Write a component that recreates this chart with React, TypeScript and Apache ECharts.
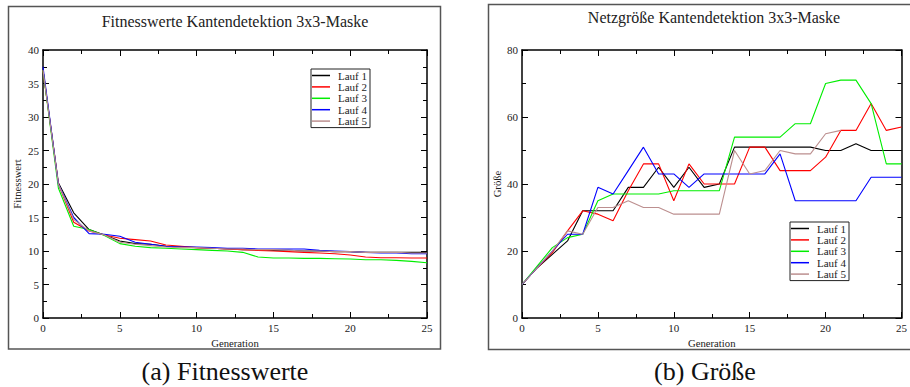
import React, { useEffect, useRef } from "react";
import * as echarts from "echarts";

const GENERATIONS = [0, 1, 2, 3, 4, 5, 6, 7, 8, 9, 10, 11, 12, 13, 14, 15, 16, 17, 18, 19, 20, 21, 22, 23, 24, 25];
const RUN_NAMES = ["Lauf 1", "Lauf 2", "Lauf 3", "Lauf 4", "Lauf 5"];
const RUN_COLORS = ["#000000", "#ff0000", "#00ee00", "#0000ff", "#bc8f8f"];

const FIT_LAUF1 = [37, 20.2, 15.7, 13.2, 12.4, 11.5, 11.1, 11.0, 10.7, 10.6, 10.5, 10.4, 10.3, 10.2, 10.2, 10.1, 10.1, 10.0, 10.0, 9.9, 9.9, 9.8, 9.8, 9.8, 9.8, 9.8];
const FIT_LAUF2 = [37, 20, 14.3, 13.0, 12.4, 11.9, 11.7, 11.5, 10.9, 10.7, 10.5, 10.4, 10.3, 10.2, 10.1, 10.0, 9.9, 9.8, 9.7, 9.6, 9.4, 9.1, 9.0, 9.0, 8.95, 8.95];
const FIT_LAUF3 = [37, 19.4, 13.7, 13.2, 12.3, 11.1, 10.7, 10.5, 10.4, 10.3, 10.2, 10.1, 10.0, 9.8, 9.1, 8.95, 8.95, 8.9, 8.9, 8.85, 8.8, 8.7, 8.7, 8.6, 8.45, 8.25];
const FIT_LAUF4 = [37.5, 20, 15.0, 12.6, 12.5, 12.2, 11.3, 11.0, 10.7, 10.6, 10.6, 10.5, 10.4, 10.4, 10.3, 10.3, 10.3, 10.3, 10.1, 10.0, 9.9, 9.8, 9.7, 9.7, 9.6, 9.6];
const FIT_LAUF5 = [37, 20, 14.7, 13.0, 12.4, 11.3, 11.0, 10.8, 10.6, 10.5, 10.5, 10.4, 10.3, 10.3, 10.2, 10.2, 10.1, 10.0, 10.0, 9.9, 9.9, 9.8, 9.8, 9.8, 9.7, 9.7];

const SIZE_LAUF1 = [10, 15, 19, 23, 32, 32, 32, 39, 39, 45, 39, 45, 39, 40, 51, 51, 51, 51, 51, 51, 50, 50, 52, 50, 50, 50];
const SIZE_LAUF2 = [10, 15, 19.5, 26, 32, 31, 29, 38, 46, 46, 35, 46, 40, 40, 40, 51, 51, 44, 44, 44, 48, 56, 56, 64, 56, 57];
const SIZE_LAUF3 = [10, 15.5, 21, 24, 25, 35, 37, 37, 37, 37, 38, 38, 38, 38, 54, 54, 54, 54, 58, 58, 70, 71, 71, 64, 46, 46];
const SIZE_LAUF4 = [10, 15, 20, 25, 25, 39, 37, 44, 51, 43, 43, 39, 43, 43, 43, 43, 43, 49, 35, 35, 35, 35, 35, 42, 42, 42];
const SIZE_LAUF5 = [10, 15, 20, 26, 25, 33, 33, 35, 33, 33, 31, 31, 31, 31, 50, 43, 44, 50, 49, 49, 55, 56, null, null, null, null];

const FIT_RUNS = [FIT_LAUF1, FIT_LAUF2, FIT_LAUF3, FIT_LAUF4, FIT_LAUF5];
const SIZE_RUNS = [SIZE_LAUF1, SIZE_LAUF2, SIZE_LAUF3, SIZE_LAUF4, SIZE_LAUF5];

const SERIF = "Liberation Serif";

function pairs(vals: (number | null)[]) {
  return GENERATIONS.map((g, i) => [g, vals[i]]).filter((p) => p[1] !== null);
}

function makeXAxis(gridIndex: number, top: boolean) {
  return {
    type: "value",
    gridIndex,
    position: top ? "top" : "bottom",
    min: 0,
    max: 25,
    interval: 5,
    name: top ? "" : "Generation",
    nameLocation: "middle",
    nameGap: 19,
    nameTextStyle: { fontFamily: SERIF, fontSize: 10.7, color: "#222" },
    axisLine: { show: true, onZero: false, lineStyle: { color: "#000", width: 1.5 } },
    axisTick: { show: true, inside: true, length: 6, lineStyle: { color: "#000", width: 1 } },
    minorTick: { show: true, splitNumber: 2, length: 4, lineStyle: { color: "#000", width: 1 } },
    axisLabel: { show: !top, fontFamily: SERIF, fontSize: 11, color: "#222", margin: 4 },
    splitLine: { show: false },
  };
}

function makeYAxis(gridIndex: number, right: boolean, max: number, interval: number, name: string, gap: number) {
  return {
    type: "value",
    gridIndex,
    position: right ? "right" : "left",
    min: 0,
    max,
    interval,
    name: right ? "" : name,
    nameLocation: "middle",
    nameGap: gap,
    nameTextStyle: { fontFamily: SERIF, fontSize: 10.7, color: "#222" },
    axisLine: { show: true, onZero: false, lineStyle: { color: "#000", width: 1.5 } },
    axisTick: { show: true, inside: true, length: 6, lineStyle: { color: "#000", width: 1 } },
    minorTick: { show: true, splitNumber: 2, length: 4, lineStyle: { color: "#000", width: 1 } },
    axisLabel: { show: !right, fontFamily: SERIF, fontSize: 11, color: "#222", margin: 4 },
    splitLine: { show: false },
  };
}

function makeLegend(left: number, top: number) {
  return {
    show: true,
    orient: "vertical",
    left,
    top,
    data: RUN_NAMES,
    icon: "rect",
    itemWidth: 18,
    itemHeight: 1.5,
    itemGap: 0.4,
    padding: [1, 3, 1, 1],
    borderColor: "#222",
    borderWidth: 1,
    backgroundColor: "#fff",
    selectedMode: false,
    textStyle: { fontFamily: SERIF, fontSize: 11, color: "#222", lineHeight: 11, padding: [0, 0, 0, 3] },
  };
}

export default function App() {
  const ref = useRef<HTMLDivElement>(null);
  useEffect(() => {
    if (!ref.current) return;
    const chart = echarts.init(ref.current, null, { renderer: "svg" });
    const series: any[] = [];
    FIT_RUNS.forEach((vals, i) => {
      series.push({
        name: RUN_NAMES[i],
        type: "line",
        xAxisIndex: 0,
        yAxisIndex: 0,
        data: pairs(vals),
        showSymbol: false,
        symbol: "none",
        lineStyle: { color: RUN_COLORS[i], width: 1.1 },
        itemStyle: { color: RUN_COLORS[i] },
        z: 2 + i,
      });
    });
    SIZE_RUNS.forEach((vals, i) => {
      series.push({
        name: RUN_NAMES[i],
        type: "line",
        xAxisIndex: 2,
        yAxisIndex: 2,
        data: pairs(vals),
        showSymbol: false,
        symbol: "none",
        lineStyle: { color: RUN_COLORS[i], width: 1.1 },
        itemStyle: { color: RUN_COLORS[i] },
        z: 2 + i,
      });
    });
    chart.setOption({
      animation: false,
      backgroundColor: "#fff",
      textStyle: { fontFamily: SERIF },
      grid: [
        { left: 43, top: 50, width: 384, height: 268 },
        { left: 522, top: 50, width: 384, height: 268 },
      ],
      xAxis: [makeXAxis(0, false), makeXAxis(0, true), makeXAxis(1, false), makeXAxis(1, true)],
      yAxis: [
        makeYAxis(0, false, 40, 5, "Fitnesswert", 21),
        makeYAxis(0, true, 40, 5, "", 0),
        makeYAxis(1, false, 80, 20, "Größe", 20),
        makeYAxis(1, true, 80, 20, "", 0),
      ],
      legend: [makeLegend(311, 69), makeLegend(790, 222)],
      series,
      graphic: [
        {
          type: "rect",
          shape: { x: 8.5, y: 6.5, width: 432, height: 342.5 },
          style: { fill: "none", stroke: "#555", lineWidth: 1.5 },
          silent: true,
        },
        {
          type: "rect",
          shape: { x: 488.5, y: 4.5, width: 440, height: 345 },
          style: { fill: "none", stroke: "#555", lineWidth: 1.5 },
          silent: true,
        },
        {
          type: "text",
          x: 235,
          y: 21,
          style: { text: "Fitnesswerte Kantendetektion 3x3-Maske", fontFamily: SERIF, fontSize: 16, fill: "#222", textAlign: "center", textVerticalAlign: "middle" },
        },
        {
          type: "text",
          x: 714,
          y: 17.5,
          style: { text: "Netzgröße Kantendetektion 3x3-Maske", fontFamily: SERIF, fontSize: 16, fill: "#222", textAlign: "center", textVerticalAlign: "middle" },
        },
        {
          type: "text",
          x: 225,
          y: 371,
          style: { text: "(a) Fitnesswerte", fontFamily: SERIF, fontSize: 26, fill: "#111", textAlign: "center", textVerticalAlign: "middle" },
        },
        {
          type: "text",
          x: 705,
          y: 371,
          style: { text: "(b) Größe", fontFamily: SERIF, fontSize: 26, fill: "#111", textAlign: "center", textVerticalAlign: "middle" },
        },
      ],
    });
    return () => chart.dispose();
  }, []);
  return <div ref={ref} style={{ position: "fixed", left: 0, top: 0, width: 910, height: 387 }} />;
}
